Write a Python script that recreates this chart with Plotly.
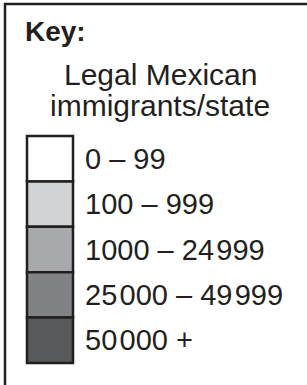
import plotly.graph_objects as go

title = "Key:"
subtitle = ["Legal Mexican", "immigrants/state"]
TS = "<span style='font-size:8px'> </span>"
labels = ["0 – 99", "100 – 999", "1000 – 24" + TS + "999", "25" + TS + "000 – 49" + TS + "999", "50" + TS + "000 +"]
colors = ["#ffffff", "#d1d3d4", "#a7a9ac", "#808285", "#58595b"]

W, H = 307, 385
INK = "#231f20"
FONT = "Liberation Sans, Arial, sans-serif"

top0 = 136.0
step = 45.4
sw_left, sw_right = 27.0, 73.0

fig = go.Figure()
fig.add_trace(go.Bar(
    x=[(sw_left + sw_right) / 2] * len(labels),
    y=[step] * len(labels),
    base=[top0 + i * step for i in range(len(labels))],
    width=sw_right - sw_left,
    marker=dict(color=colors, line=dict(color=INK, width=2.5)),
    hoverinfo="skip",
    showlegend=False,
))

# frame
fig.add_shape(type="line", x0=4, x1=W + 5, y0=4, y1=4, line=dict(color=INK, width=2.5))
fig.add_shape(type="line", x0=5, x1=5, y0=3, y1=H + 5, line=dict(color=INK, width=2.5))

fig.add_annotation(x=23, y=31, text="<b>" + title + "</b>", showarrow=False,
                   xanchor="left", yanchor="middle", font=dict(size=28, color=INK, family=FONT))
for i, s in enumerate(subtitle):
    fig.add_annotation(x=160, y=74 + i * 31, text=s, showarrow=False,
                       xanchor="center", yanchor="middle", font=dict(size=30, color=INK, family=FONT))
for i, lab in enumerate(labels):
    fig.add_annotation(x=83, y=top0 + step / 2 + i * step, text=lab, showarrow=False,
                       xanchor="left", yanchor="middle", font=dict(size=29, color=INK, family=FONT))

fig.update_layout(
    width=W, height=H, margin=dict(l=0, r=0, t=0, b=0),
    paper_bgcolor="white", plot_bgcolor="white",
    barmode="overlay",
    xaxis=dict(range=[0, W], visible=False, fixedrange=True),
    yaxis=dict(range=[H, 0], visible=False, fixedrange=True),
)
fig.write_html("out.html", config={"displayModeBar": False},
               post_script="document.body.style.margin='0';document.body.style.overflow='hidden';")
